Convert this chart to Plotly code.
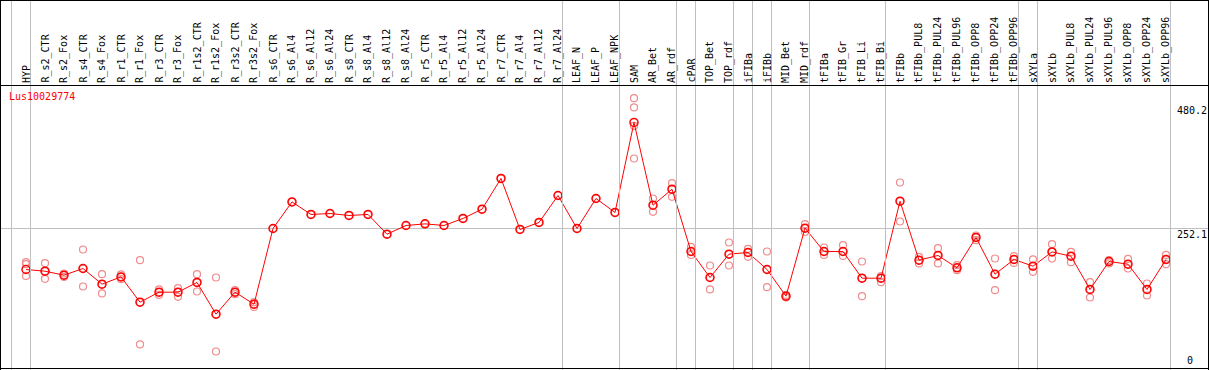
import plotly.graph_objects as go

gene = "Lus10029774"

samples = [
    "HYP", "R_s2_CTR", "R_s2_Fox", "R_s4_CTR", "R_s4_Fox", "R_r1_CTR", "R_r1_Fox",
    "R_r3_CTR", "R_r3_Fox", "R_r1s2_CTR", "R_r1s2_Fox", "R_r3s2_CTR", "R_r3s2_Fox",
    "R_s6_CTR", "R_s6_Al4", "R_s6_Al12", "R_s6_Al24", "R_s8_CTR", "R_s8_Al4",
    "R_s8_Al12", "R_s8_Al24", "R_r5_CTR", "R_r5_Al4", "R_r5_Al12", "R_r5_Al24",
    "R_r7_CTR", "R_r7_Al4", "R_r7_Al12", "R_r7_Al24", "LEAF_N", "LEAF_P", "LEAF_NPK",
    "SAM", "AR_Bet", "AR_rdf", "cPAR", "TOP_Bet", "TOP_rdf", "iFIBa", "iFIBb",
    "MID_Bet", "MID_rdf", "tFIBa", "tFIB_Gr", "tFIB_Li", "tFIB_Bi", "tFIBb",
    "tFIBb_PUL8", "tFIBb_PUL24", "tFIBb_PUL96", "tFIBb_OPP8", "tFIBb_OPP24",
    "tFIBb_OPP96", "sXYLa", "sXYLb", "sXYLb_PUL8", "sXYLb_PUL24", "sXYLb_PUL96",
    "sXYLb_OPP8", "sXYLb_OPP24", "sXYLb_OPP96",
]

means = [
    179.4, 176.4, 169.3, 181.2, 153.4, 166.3, 121.5, 139.2, 139.2, 156.4, 100.2,
    139.2, 117.9, 252.1, 299.3, 277.0, 278.7, 275.2, 277.0, 242.0, 257.4, 260.3,
    257.4, 269.9, 286.3, 340.8, 250.4, 262.8, 310.6, 252.1, 305.3, 280.5, 440.1,
    293.4, 321.8, 211.3, 165.2, 206.6, 209.6, 179.4, 132.1, 252.7, 211.3, 211.3,
    164.0, 164.0, 300.5, 195.9, 204.3, 182.3, 236.2, 171.1, 197.2, 185.3, 210.6,
    203.0, 144.0, 193.6, 188.8, 144.0, 197.2,
]

replicates = [
    [192.4, 188.8, 168.1], [190.6, 176.4, 162.8], [172.3, 169.3, 166.3],
    [214.9, 181.2, 149.3], [171.1, 153.4, 136.9], [170.6, 166.3, 162.2],
    [195.9, 121.5, 46.5], [144.0, 139.2, 134.4], [146.3, 139.2, 130.9],
    [171.1, 156.4, 140.4], [165.2, 100.2, 34.0], [142.7, 139.2, 135.6],
    [121.5, 117.9, 113.1], [252.1], [299.3], [277.0], [278.7], [275.2], [277.0],
    [242.0], [257.4], [260.3], [257.4], [269.9], [286.3], [340.8], [250.4],
    [262.8], [310.6], [252.1], [305.3], [280.5],
    [483.2, 466.7, 434.0, 376.2], [305.3, 293.4, 281.6], [332.4, 321.8, 308.2],
    [219.5, 211.3, 205.3], [186.5, 165.2, 144.0], [227.3, 206.6, 186.5],
    [216.0, 209.6, 201.8], [211.3, 179.4, 148.0], [134.4, 132.1, 129.8],
    [259.8, 252.7, 246.1], [218.4, 211.3, 205.3], [222.5, 211.3, 203.5],
    [193.6, 164.0, 132.1], [167.6, 164.0, 156.9], [333.7, 300.5, 264.5],
    [201.8, 195.9, 190.1], [217.2, 204.3, 190.1], [187.1, 182.3, 178.2],
    [239.7, 236.2, 231.4], [198.9, 171.1, 142.7], [203.0, 197.2, 191.1],
    [197.2, 185.3, 175.2], [224.3, 210.6, 198.9], [210.6, 203.0, 192.4],
    [156.9, 144.0, 129.8], [195.9, 193.6, 190.1], [198.2, 188.8, 181.2],
    [154.6, 144.0, 133.3], [205.3, 197.2, 188.8],
]

# sample positions after which a group separator is drawn
group_ends = [0, 1, 29, 32, 35, 36, 38, 39, 40, 42, 46, 53, 54, 61]

y_ticks = [0, 252.1, 480.2]
y_tick_text = ["0", "252.1", "480.2"]

W, H = 1209, 370
FONT = "DejaVu Sans Mono"
GRID = "#c0c0c0"

idx = list(range(1, len(samples) + 1))

fig = go.Figure()

rx, ry = [], []
for i, reps in zip(idx, replicates):
    for r in reps:
        rx.append(i)
        ry.append(r)

fig.add_trace(go.Scatter(
    x=rx, y=ry, mode="markers",
    marker=dict(symbol="circle-open", size=7, color="rgb(240,140,140)",
                line=dict(width=1.2)),
    hoverinfo="skip", showlegend=False,
))
fig.add_trace(go.Scatter(
    x=idx, y=means, mode="lines+markers",
    line=dict(color="#ff0000", width=1),
    marker=dict(symbol="circle-open", size=8, color="#ff0000",
                line=dict(width=1.5)),
    text=samples, showlegend=False,
))

def py(pix):
    return (H - pix) / H

def px(pix):
    return pix / W

shapes = []
for e in group_ends:
    shapes.append(dict(type="line", xref="x", yref="paper", x0=e + 0.2368,
                       x1=e + 0.2368, y0=0, y1=1, line=dict(color=GRID, width=1)))
# frame and header separator
shapes += [
    dict(type="line", xref="paper", yref="paper", x0=0, x1=1, y0=py(0.5), y1=py(0.5),
         line=dict(color="black", width=1)),
    dict(type="line", xref="paper", yref="paper", x0=0, x1=1, y0=py(85.5), y1=py(85.5),
         line=dict(color="black", width=1)),
    dict(type="line", xref="paper", yref="paper", x0=0, x1=1, y0=py(368.5), y1=py(368.5),
         line=dict(color="black", width=1)),
    dict(type="line", xref="paper", yref="paper", x0=px(0.5), x1=px(0.5), y0=0, y1=1,
         line=dict(color="black", width=1)),
    dict(type="line", xref="paper", yref="paper", x0=px(1208.5), x1=px(1208.5), y0=0, y1=1,
         line=dict(color="black", width=1)),
]

annotations = []
for i, s in zip(idx, samples):
    annotations.append(dict(
        x=i, xref="x", y=py(85), yref="paper", text=s, textangle=-90,
        xanchor="center", yanchor="bottom", showarrow=False,
        font=dict(family=FONT, size=10, color="black"),
    ))
annotations.append(dict(
    x=px(7), xref="paper", y=py(89), yref="paper", text=gene,
    xanchor="left", yanchor="top", showarrow=False,
    font=dict(family=FONT, size=10, color="#ff0000"),
))
for v, t in zip(y_ticks, y_tick_text):
    if v == 0:
        # the zero value sits on the lower edge of the plot: anchor it to the paper
        annotations.append(dict(x=px(1185), xref="paper", y=0, yref="paper", text=t,
                                xanchor="left", yanchor="bottom", yshift=2,
                                showarrow=False,
                                font=dict(family=FONT, size=10, color="black")))
    elif v == 252.1:
        annotations.append(dict(x=px(1209), xref="paper", y=v, yref="y", text=t,
                                xanchor="right", yanchor="top", yshift=2,
                                showarrow=False,
                                font=dict(family=FONT, size=10, color="black")))
    else:
        annotations.append(dict(x=px(1209), xref="paper", y=v, yref="y", text=t,
                                xanchor="right", yanchor="top", yshift=-3,
                                showarrow=False,
                                font=dict(family=FONT, size=10, color="black")))

x0 = 1 - 26 / 19
fig.update_layout(
    width=W, height=H,
    margin=dict(l=0, r=0, t=0, b=0),
    paper_bgcolor="white", plot_bgcolor="white",
    xaxis=dict(range=[x0, x0 + W / 19], showgrid=False, zeroline=False,
               showticklabels=False, ticks="", fixedrange=True),
    yaxis=dict(range=[1.213, 1.213 + H / 0.564], tickvals=[252.1],
               showgrid=True, gridcolor=GRID, gridwidth=1, zeroline=False,
               showticklabels=False, ticks="", fixedrange=True),
    shapes=shapes,
    annotations=annotations,
    showlegend=False,
)

fig.write_html(
    "out.html",
    config={"displayModeBar": False},
    post_script="document.body.style.margin='0';document.body.style.overflow='hidden';",
)
